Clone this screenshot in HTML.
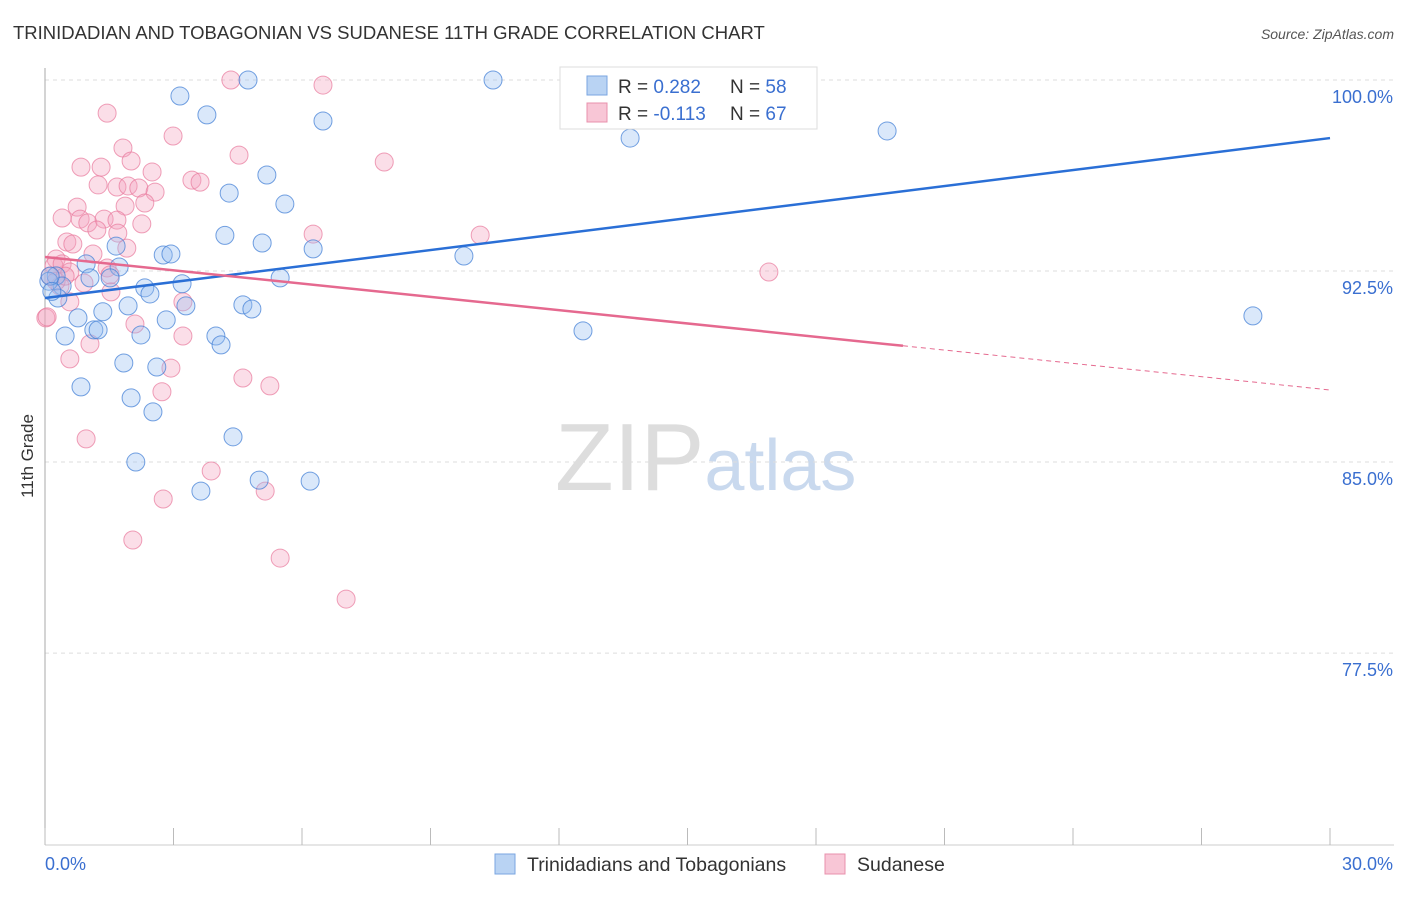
<!DOCTYPE html>
<html><head><meta charset="utf-8"><style>
body{margin:0;background:#fff;font-family:"Liberation Sans",sans-serif;}
svg text{font-family:"Liberation Sans",sans-serif;}
</style></head><body>
<svg id="chart" width="1406" height="892" xmlns="http://www.w3.org/2000/svg">
<text x="13" y="39" font-size="18.5" fill="#333">TRINIDADIAN AND TOBAGONIAN VS SUDANESE 11TH GRADE CORRELATION CHART</text>
<text x="1394" y="39" font-size="14" fill="#555" font-style="italic" text-anchor="end">Source: ZipAtlas.com</text>
<text x="555" y="490" font-size="96" fill="#ddd" font-family="Liberation Serif">ZIP<tspan fill="#c9d9ee" font-family="Liberation Sans" font-size="72">atlas</tspan></text>
<g id="grid"></g>
<g id="axes"></g>
<g id="marks"></g>
<text transform="translate(33,456) rotate(-90)" font-size="17" fill="#333" text-anchor="middle">11th Grade</text>
<g>
<rect x="560" y="67" width="257" height="62" fill="#fff" stroke="#ddd"/>
<rect x="587" y="76" width="20" height="19" fill="#b9d3f3" stroke="#7aa6e0"/>
<text x="618" y="93" font-size="19" fill="#333">R = <tspan fill="#3a6fd0">0.282</tspan></text>
<text x="730" y="93" font-size="19" fill="#333">N = <tspan fill="#3a6fd0">58</tspan></text>
<rect x="587" y="103" width="20" height="19" fill="#f8c6d6" stroke="#e890ac"/>
<text x="618" y="120" font-size="19" fill="#333">R = <tspan fill="#3a6fd0">-0.113</tspan></text>
<text x="730" y="120" font-size="19" fill="#333">N = <tspan fill="#3a6fd0">67</tspan></text>
</g>
<g>
<rect x="495" y="854" width="20" height="20" fill="#b9d3f3" stroke="#7aa6e0"/>
<text x="527" y="871" font-size="19.5" fill="#333">Trinidadians and Tobagonians</text>
<rect x="825" y="854" width="20" height="20" fill="#f8c6d6" stroke="#e890ac"/>
<text x="857" y="871" font-size="19.5" fill="#333">Sudanese</text>
</g>
</svg>
<script>
const yTicks=[100,92.5,85,77.5];
const yTickLabels=["100.0%","92.5%","85.0%","77.5%"];
const xEndLabels=["0.0%","30.0%"];
const blueX=[4.74,10.46,3.15,3.78,6.49,13.66,19.66,4.30,5.18,5.60,4.20,5.07,6.26,2.76,2.94,9.78,1.66,1.73,0.96,0.26,0.40,0.30,1.05,1.52,2.33,2.45,3.2,5.49,1.35,1.94,3.29,4.62,4.83,0.77,2.83,0.47,1.14,1.24,2.24,3.99,4.11,12.56,28.2,1.84,2.61,0.84,2.01,2.52,4.39,2.12,3.64,5.0,6.19,0.09,0.12,0.16];
const blueY=[100,100,99.37,98.63,98.39,97.72,98.0,95.56,96.27,95.13,93.9,93.6,93.37,93.13,93.17,93.09,93.48,92.66,92.78,92.31,91.91,91.44,92.23,92.23,91.84,91.6,92.0,92.23,90.9,91.13,91.13,91.17,91.01,90.66,90.58,89.95,90.19,90.19,89.99,89.95,89.6,90.15,90.74,88.89,88.73,87.95,87.52,86.97,85.99,85.0,83.86,84.29,84.25,92.1,92.3,91.7];
const pinkX=[4.34,6.49,1.45,2.99,4.53,7.92,1.82,2.01,0.84,1.31,2.5,3.43,3.62,1.24,1.68,1.94,2.19,2.57,2.33,1.87,0.75,0.4,0.82,1.0,1.38,1.68,2.26,1.21,1.7,6.26,10.16,0.51,0.65,1.91,1.12,0.26,0.21,0.4,0.58,1.45,1.52,0.35,0.91,1.54,3.22,0.58,2.1,0.02,3.22,1.05,0.58,2.94,4.62,5.25,2.73,0.96,3.88,5.14,2.76,2.05,5.49,7.03,16.9,0.05,0.12,0.26,0.47];
const pinkY=[100,99.8,98.7,97.8,97.05,96.78,97.33,96.82,96.58,96.58,96.39,96.07,95.99,95.88,95.8,95.84,95.76,95.6,95.17,95.05,95.01,94.58,94.54,94.39,94.54,94.5,94.35,94.11,93.99,93.95,93.91,93.64,93.56,93.4,93.17,92.97,92.7,92.78,92.46,92.62,92.35,91.91,92.03,91.68,91.29,91.29,90.42,90.66,89.95,89.64,89.05,88.69,88.3,87.99,87.76,85.91,84.65,83.86,83.55,81.94,81.23,79.62,92.46,90.7,92.3,92.1,92.3];
const blueTrend=[91.44,97.72];
const pinkTrend=[93.05,87.83];
const pinkSolidEnd=20.03;
const X=v=>45+v*(1285/30);
const Y=v=>80+(100-v)*25.47;
const NS="http://www.w3.org/2000/svg";
function mk(tag,attrs,parent){const e=document.createElementNS(NS,tag);for(const k in attrs)e.setAttribute(k,attrs[k]);parent.appendChild(e);return e;}
const grid=document.getElementById('grid'),axes=document.getElementById('axes'),marks=document.getElementById('marks');
yTicks.forEach((t,i)=>{
 const l=mk('line',{x1:45,x2:1394,y1:Y(t),y2:Y(t),stroke:'#ddd','stroke-dasharray':'4,4'},grid);
 
 
 const tx=mk('text',{x:1393,y:Y(t)+23,'font-size':18,fill:'#3a6fd0','text-anchor':'end'},grid);
 tx.textContent=yTickLabels[i];
 
 
});
let a=mk('line',{x1:45,x2:45,y1:68,y2:845,stroke:'#aaa'},axes);


a=mk('line',{x1:45,x2:1394,y1:845,y2:845,stroke:'#ccc'},axes);


for(let i=0;i<=10;i++){
 const t=mk('line',{x1:X(i*3),x2:X(i*3),y1:828,y2:845,stroke:'#bbb'},axes);
 
 
}
let xl=mk('text',{x:45,y:870,'font-size':18,fill:'#3a6fd0'},axes);xl.textContent=xEndLabels[0];


xl=mk('text',{x:1393,y:870,'font-size':18,fill:'#3a6fd0','text-anchor':'end'},axes);xl.textContent=xEndLabels[1];


pinkX.forEach((v,i)=>{
 const c=mk('circle',{cx:X(v),cy:Y(pinkY[i]),r:9,fill:'rgba(244,160,188,0.35)',stroke:'rgba(232,120,155,0.7)','stroke-width':1},marks);
 
 
});
blueX.forEach((v,i)=>{
 const c=mk('circle',{cx:X(v),cy:Y(blueY[i]),r:9,fill:'rgba(150,190,240,0.35)',stroke:'rgba(70,130,215,0.75)','stroke-width':1},marks);
 
 
});
let tl=mk('line',{x1:X(0),y1:Y(blueTrend[0]),x2:X(30),y2:Y(blueTrend[1]),stroke:'#2a6fd6','stroke-width':2.5},marks);


const py=x=>pinkTrend[0]+(pinkTrend[1]-pinkTrend[0])*x/30;
tl=mk('line',{x1:X(0),y1:Y(pinkTrend[0]),x2:X(pinkSolidEnd),y2:Y(py(pinkSolidEnd)),stroke:'#e5698f','stroke-width':2.5},marks);


tl=mk('line',{x1:X(pinkSolidEnd),y1:Y(py(pinkSolidEnd)),x2:X(30),y2:Y(pinkTrend[1]),stroke:'#e5698f','stroke-width':1,'stroke-dasharray':'5,4'},marks);


</script>
</body></html>
